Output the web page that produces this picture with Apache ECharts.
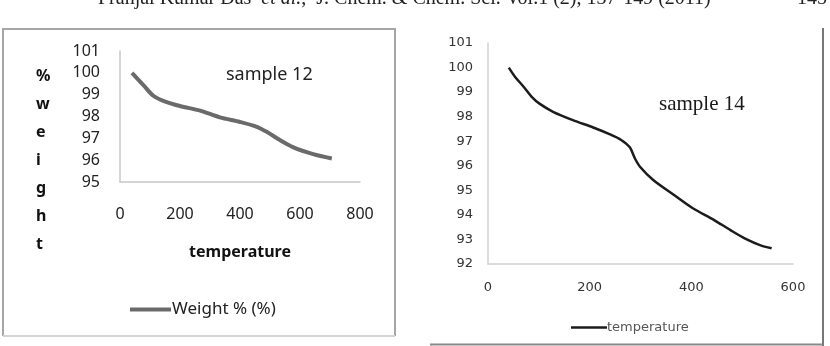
<!DOCTYPE html>
<html><head><meta charset="utf-8">
<script src="https://cdn.jsdelivr.net/npm/echarts@6/dist/echarts.min.js"></script>
<style>html,body{margin:0;padding:0;background:#fff}#c{width:830px;height:346px}</style>
</head><body><div id="c"></div>
<script>
// sample 12 : temperature vs weight %
const temp12 = [40, 78, 111, 144, 200, 267, 333, 400, 456, 489, 533, 578, 644, 706];
const weight12 = [100.0, 99.44, 98.95, 98.72, 98.48, 98.27, 97.96, 97.75, 97.53, 97.3, 96.92, 96.59, 96.28, 96.08];
// sample 14 : temperature vs weight %
const temp14 = [41, 53, 70, 86, 102, 128, 167, 207, 240, 262, 279, 289, 299, 325, 366, 403, 445, 477, 509, 535, 558];
const weight14 = [100.0, 99.63, 99.22, 98.81, 98.52, 98.2, 97.86, 97.56, 97.28, 97.05, 96.75, 96.3, 95.96, 95.42, 94.81, 94.27, 93.79, 93.38, 93.0, 92.77, 92.64];
const xTicks12 = [0, 200, 400, 600, 800];
const yTicks12 = [95, 96, 97, 98, 99, 100, 101];
const xTicks14 = [0, 200, 400, 600];
const yTicks14 = [92, 93, 94, 95, 96, 97, 98, 99, 100, 101];

const s12 = temp12.map((t, i) => [t, weight12[i]]);
const s14 = temp14.map((t, i) => [t, weight14[i]]);

const chart = echarts.init(document.getElementById('c'), null, {renderer: 'canvas'});
const sans = 'Noto Sans';
const dv = 'DejaVu Sans';
chart.setOption({
  animation: false,
  backgroundColor: '#fff',
  title: [
    {text: 'sample 12', left: 221, top: 61, textStyle: {fontFamily: sans, fontSize: 18, fontWeight: 'normal', color: '#222'}},
    {text: 'sample 14', left: 654, top: 89, textStyle: {fontFamily: 'Liberation Serif', fontSize: 21, fontWeight: 'normal', color: '#1a1a1a'}}
  ],
  legend: [
    {data: ['Weight % (%)'], left: 125, top: 296, icon: 'rect', itemWidth: 41, itemHeight: 4, itemGap: 0,
     textStyle: {fontFamily: sans, fontSize: 17, color: '#222', padding: [0, 0, 0, -4]}},
    {data: ['temperature'], left: 566, top: 316, icon: 'rect', itemWidth: 36, itemHeight: 2.5, itemGap: 0,
     textStyle: {fontFamily: dv, fontSize: 13, color: '#555', padding: [0, 0, 0, -5]}}
  ],
  grid: [
    {left: 120, top: 51, width: 240, height: 131},
    {left: 488, top: 43, width: 305, height: 221}
  ],
  xAxis: [
    {gridIndex: 0, type: 'value', min: 0, max: 800, interval: 200,
     name: 'temperature', nameLocation: 'middle', nameGap: 62,
     nameTextStyle: {fontFamily: sans, fontSize: 16, fontWeight: 'bold', color: '#111'},
     axisLine: {lineStyle: {color: '#c8c8c8', width: 1.5}}, axisTick: {show: false},
     axisLabel: {margin: 24, fontFamily: sans, fontSize: 16, color: '#222',
       formatter: v => xTicks12.includes(v) ? String(v) : ''},
     splitLine: {show: false}},
    {gridIndex: 1, type: 'value', min: 0, max: 600, interval: 200,
     axisLine: {lineStyle: {color: '#d0d0d0', width: 1.5}}, axisTick: {show: false},
     axisLabel: {margin: 17, fontFamily: dv, fontSize: 13, color: '#333',
       formatter: v => xTicks14.includes(v) ? String(v) : ''},
     splitLine: {show: false}}
  ],
  yAxis: [
    {gridIndex: 0, type: 'value', min: 95, max: 101, interval: 1,
     axisLine: {show: true, lineStyle: {color: '#c8c8c8', width: 1.5}}, axisTick: {show: false},
     axisLabel: {margin: 20, fontFamily: sans, fontSize: 16, color: '#222',
       formatter: v => yTicks12.includes(v) ? String(v) : ''},
     splitLine: {show: false}},
    {gridIndex: 1, type: 'value', min: 92, max: 101, interval: 1,
     axisLine: {show: true, lineStyle: {color: '#d0d0d0', width: 1.5}}, axisTick: {show: false},
     axisLabel: {margin: 15, fontFamily: dv, fontSize: 13, color: '#333',
       formatter: v => yTicks14.includes(v) ? String(v) : ''},
     splitLine: {show: false}}
  ],
  series: [
    {name: 'Weight % (%)', type: 'line', xAxisIndex: 0, yAxisIndex: 0, data: s12, smooth: 0.3,
     showSymbol: false, lineStyle: {color: '#6a6a6a', width: 4}, itemStyle: {color: '#6a6a6a'}},
    {name: 'temperature', type: 'line', xAxisIndex: 1, yAxisIndex: 1, data: s14, smooth: 0.3,
     showSymbol: false, lineStyle: {color: '#1c1c1c', width: 2.5}, itemStyle: {color: '#1c1c1c'}}
  ],
  graphic: [
    {type: 'polyline', shape: {points: [[3, 336], [3, 29], [395, 29], [395, 336]]}, style: {stroke: '#a6a6a6', lineWidth: 2, fill: null}},
    {type: 'line', shape: {x1: 3, y1: 336, x2: 395, y2: 336}, style: {stroke: '#d4d4d4', lineWidth: 2}},
    {type: 'line', shape: {x1: 823, y1: 28, x2: 823, y2: 346}, style: {stroke: '#777', lineWidth: 2}},
    {type: 'line', shape: {x1: 430, y1: 344.5, x2: 823, y2: 344.5}, style: {stroke: '#888', lineWidth: 2}},
    {type: 'text', left: 36, top: 62, style: {text: '%\nw\ne\ni\ng\nh\nt', fontFamily: sans, fontSize: 16, fontWeight: 'bold', lineHeight: 28, align: 'center', fill: '#111'}},
    {type: 'text', x: 98, y: 9, style: {
      text: 'Pranjal Kumar Das  {i|et al.},  J. Chem. & Chem. Sci. Vol.1 (2), 137-149 (2011)',
      fontFamily: 'Liberation Serif', fontSize: 20, fill: '#222', verticalAlign: 'bottom',
      rich: {i: {fontFamily: 'Liberation Serif', fontSize: 20, fontStyle: 'italic', fill: '#222'}}}},
    {type: 'text', x: 797, y: 9, style: {text: '145', fontFamily: 'Liberation Serif', fontSize: 20, fill: '#222', verticalAlign: 'bottom'}}
  ]
});
</script></body></html>
